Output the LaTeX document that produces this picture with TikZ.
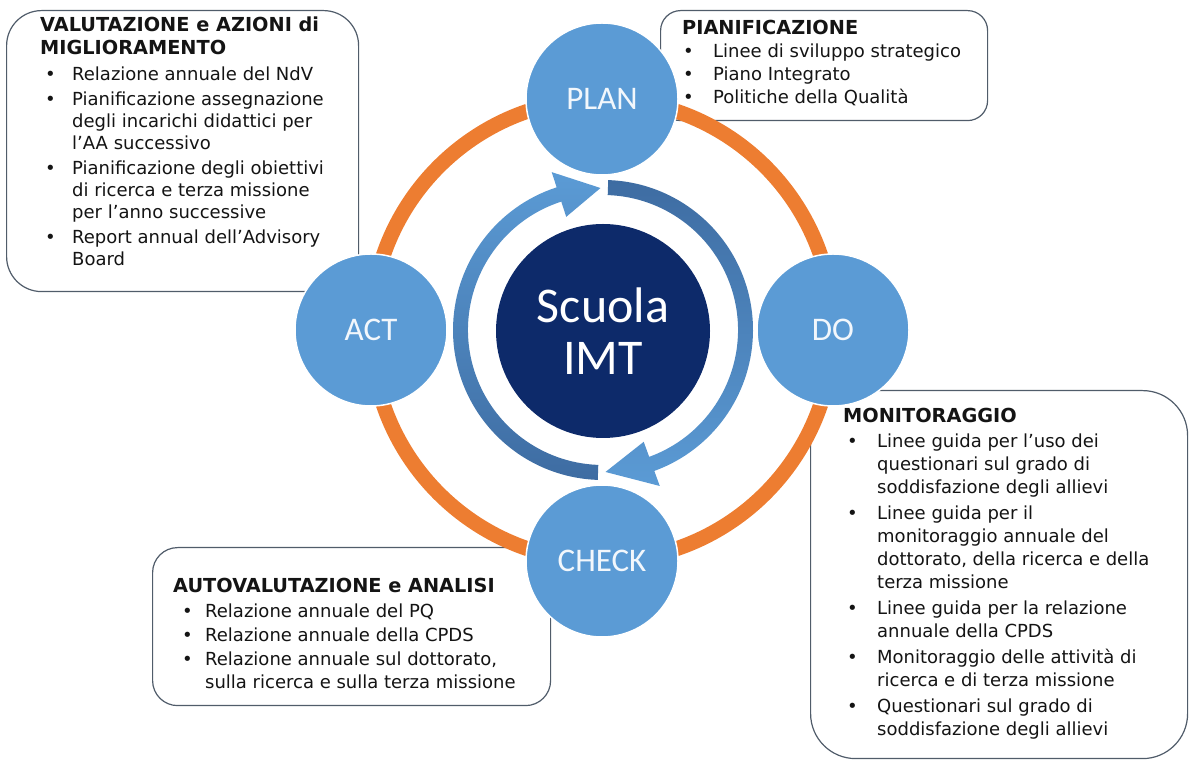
\documentclass[tikz,border=0pt]{standalone}
\usepackage{fontspec}
\setmainfont{DejaVu Sans}
\newfontfamily\circfont{Carlito}
\usetikzlibrary{calc}
\definecolor{ringorange}{RGB}{237,125,49}
\definecolor{phaseblue}{RGB}{91,155,213}
\definecolor{navy}{RGB}{13,42,106}
\definecolor{arcdark}{RGB}{62,108,162}
\definecolor{boxline}{RGB}{80,92,106}
\definecolor{txt}{RGB}{20,20,20}
\definecolor{circtext}{RGB}{242,247,252}
\newcommand\bitem[2]{\hspace*{#1pt}\makebox[\dimexpr #2pt-#1pt\relax][l]{•}}
\newcommand\contline[1]{\hspace*{#1pt}}
\newcommand\ttl[1]{{\fontsize{19.3}{22}\selectfont\bfseries #1}}
\tikzset{
  infobox/.style={draw=boxline, line width=1.2pt, fill=white, inner sep=0pt, anchor=north west},
  boxtext/.style={anchor=base west, inner sep=0pt, text=txt},
  phase/.style={circle, fill=phaseblue, draw=white, line width=1.5pt, minimum size=152pt, inner sep=0pt, text=circtext, font=\circfont\fontsize{33}{33}\selectfont},
}
\begin{document}
\begin{tikzpicture}[x=1pt,y=1pt]
\useasboundingbox (0,0) rectangle (1189,760);
% boxes
\node[infobox, rounded corners=35pt, minimum width=352pt, minimum height=281pt] (b1) at (6,750) {};
\node[infobox, rounded corners=20pt, minimum width=327pt, minimum height=110pt] (b2) at (660,750) {};
\node[infobox, rounded corners=45pt, minimum width=377pt, minimum height=368pt] (b3) at (810,370) {};
\node[infobox, rounded corners=25pt, minimum width=398pt, minimum height=158pt] (b4) at (152,213) {};
% ring
\coordinate (c) at (602,430);
\draw[ringorange, line width=15pt] (c) circle[radius=231];
% inner arrows
\begin{scope}[shift={(603,430)}]
\shade[top color=phaseblue, bottom color=arcdark] (268:150) arc[start angle=268, end angle=108, radius=150] -- (108:166) -- (91:142) -- (108:119) -- (108:135) arc[start angle=108, end angle=268, radius=135] -- cycle;
\shade[top color=arcdark, bottom color=phaseblue] (88:150) arc[start angle=88, end angle=-70, radius=150] -- (-70:166) -- (-89:142) -- (-70:119) -- (-70:135) arc[start angle=-70, end angle=88, radius=135] -- cycle;
\end{scope}
% centre
\node[circle, fill=navy, minimum size=214pt, inner sep=0pt, text=white, align=center, font=\circfont\fontsize{50}{52}\selectfont] (imt) at (603,429) {Scuola\\IMT};
% phases
\node[phase] (plan) at (602,661) {PLAN};
\node[phase] (act) at (371,430) {ACT};
\node[phase] (do) at (833,430) {DO};
\node[phase] (check) at (602,199) {CHECK};
% texts
\node[boxtext, font=\fontsize{18}{22}\selectfont] (t1) at (40,728) {\parbox[t]{400pt}{%
\ttl{VALUTAZIONE e AZIONI di}\\[1pt]
\ttl{MIGLIORAMENTO}\\[4pt]
\bitem{5}{32}Relazione annuale del NdV\\[3pt]
\bitem{5}{32}Pianificazione assegnazione\\
\contline{32}degli incarichi didattici per\\
\contline{32}l’AA successivo\\[3pt]
\bitem{5}{32}Pianificazione degli obiettivi\\
\contline{32}di ricerca e terza missione\\
\contline{32}per l’anno successive\\[3pt]
\bitem{5}{32}Report annual dell’Advisory\\
\contline{32}Board}};
\node[boxtext, font=\fontsize{18}{22.7}\selectfont] (t2) at (682,725) {\parbox[t]{400pt}{%
\ttl{PIANIFICAZIONE}\\
\bitem{1}{31}Linee di sviluppo strategico\\
\bitem{1}{31}Piano Integrato\\
\bitem{1}{31}Politiche della Qualità}};
\node[boxtext, font=\fontsize{18}{23}\selectfont] (t3) at (843,337) {\parbox[t]{400pt}{%
\ttl{MONITORAGGIO}\\[2pt]
\bitem{4}{34}Linee guida per l’uso dei\\
\contline{34}questionari sul grado di\\
\contline{34}soddisfazione degli allievi\\[3pt]
\bitem{4}{34}Linee guida per il\\
\contline{34}monitoraggio annuale del\\
\contline{34}dottorato, della ricerca e della\\
\contline{34}terza missione\\[3pt]
\bitem{4}{34}Linee guida per la relazione\\
\contline{34}annuale della CPDS\\[3pt]
\bitem{4}{34}Monitoraggio delle attività di\\
\contline{34}ricerca e di terza missione\\[3pt]
\bitem{4}{34}Questionari sul grado di\\
\contline{34}soddisfazione degli allievi}};
\node[boxtext, font=\fontsize{18}{23}\selectfont] (t4) at (173,167) {\parbox[t]{400pt}{%
\ttl{AUTOVALUTAZIONE e ANALISI}\\[2pt]
\bitem{9}{32}Relazione annuale del PQ\\[1pt]
\bitem{9}{32}Relazione annuale della CPDS\\[1pt]
\bitem{9}{32}Relazione annuale sul dottorato,\\
\contline{32}sulla ricerca e sulla terza missione}};
\end{tikzpicture}
\end{document}
